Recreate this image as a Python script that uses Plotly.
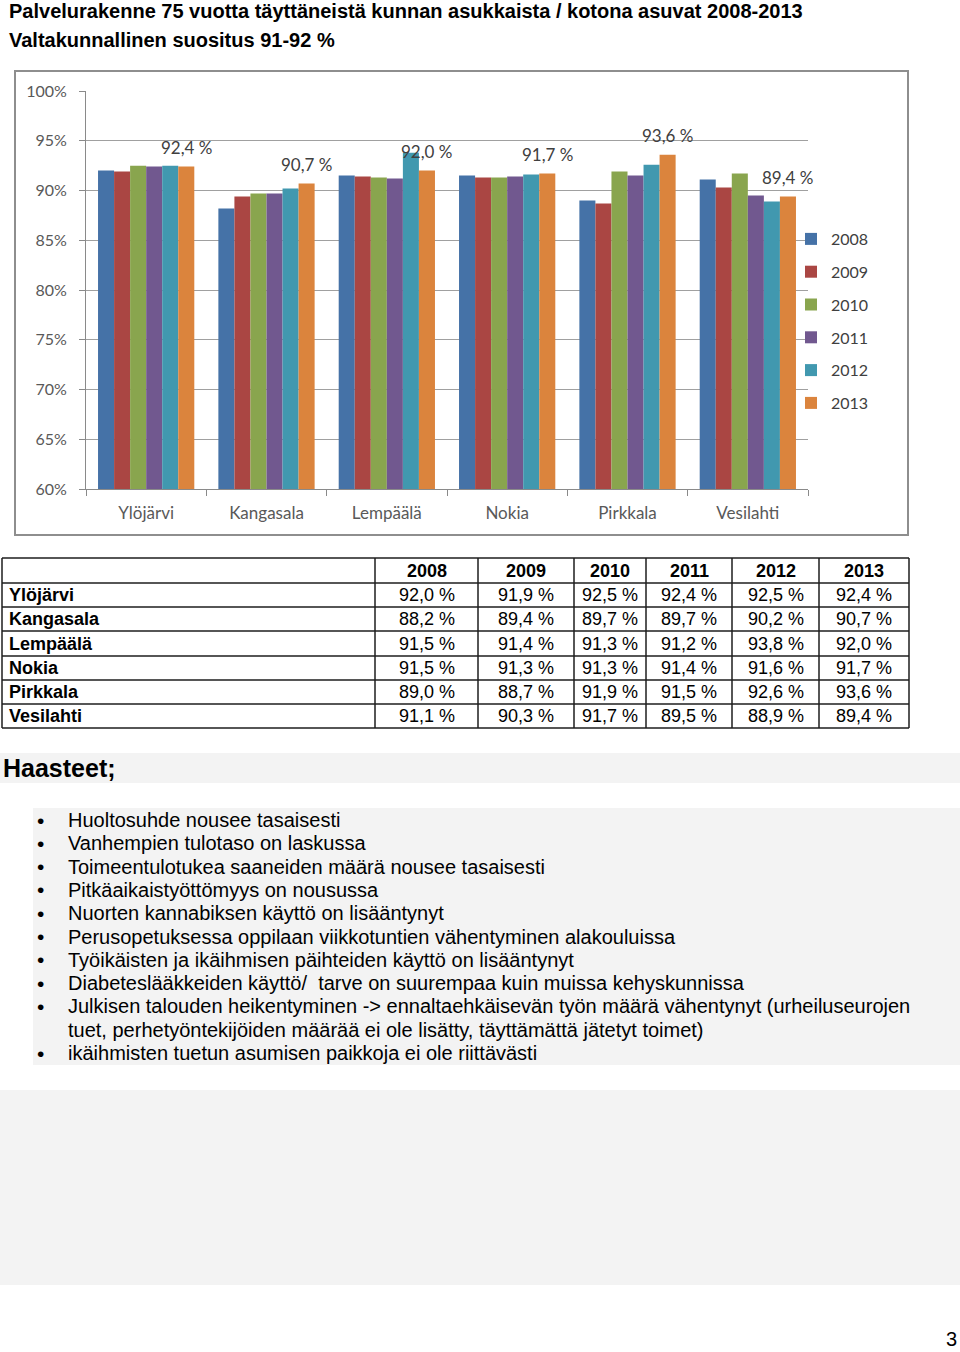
import plotly.graph_objects as go

# ---------------- data ----------------
municipalities = ["Ylöjärvi", "Kangasala", "Lempäälä", "Nokia", "Pirkkala", "Vesilahti"]
years = ["2008", "2009", "2010", "2011", "2012", "2013"]
v2008 = [92.0, 88.2, 91.5, 91.5, 89.0, 91.1]
v2009 = [91.9, 89.4, 91.4, 91.3, 88.7, 90.3]
v2010 = [92.5, 89.7, 91.3, 91.3, 91.9, 91.7]
v2011 = [92.4, 89.7, 91.2, 91.4, 91.5, 89.5]
v2012 = [92.5, 90.2, 93.8, 91.6, 92.6, 88.9]
v2013 = [92.4, 90.7, 92.0, 91.7, 93.6, 89.4]
series = [v2008, v2009, v2010, v2011, v2012, v2013]
y_ticks = [60, 65, 70, 75, 80, 85, 90, 95, 100]
y_ticktext = ["60%", "65%", "70%", "75%", "80%", "85%", "90%", "95%", "100%"]

title_lines = [
    "Palvelurakenne 75 vuotta täyttäneistä kunnan asukkaista / kotona asuvat 2008-2013",
    "Valtakunnallinen suositus 91-92 %",
]
section_title = "Haasteet;"
bullet_lines = [
    ("•", "Huoltosuhde nousee tasaisesti"),
    ("•", "Vanhempien tulotaso on laskussa"),
    ("•", "Toimeentulotukea saaneiden määrä nousee tasaisesti"),
    ("•", "Pitkäaikaistyöttömyys on nousussa"),
    ("•", "Nuorten kannabiksen käyttö on lisääntynyt"),
    ("•", "Perusopetuksessa oppilaan viikkotuntien vähentyminen alakouluissa"),
    ("•", "Työikäisten ja ikäihmisen päihteiden käyttö on lisääntynyt"),
    ("•", "Diabeteslääkkeiden käyttö/  tarve on suurempaa kuin muissa kehyskunnissa"),
    ("•", "Julkisen talouden heikentyminen -> ennaltaehkäisevän työn määrä vähentynyt (urheiluseurojen"),
    ("", "tuet, perhetyöntekijöiden määrää ei ole lisätty, täyttämättä jätetyt toimet)"),
    ("•", "ikäihmisten tuetun asumisen paikkoja ei ole riittävästi"),
]
page_number = "3"

# ---------------- style / layout constants ----------------
W, H = 960, 1352
colors = ["#4572A7", "#AA4643", "#89A54E", "#71588F", "#4198AF", "#DB843D"]
chart_font = "Lato, 'Open Sans', sans-serif"
doc_font = "'Liberation Sans', Arial, sans-serif"
table_cols = [2, 375, 478, 574, 646, 732, 819, 909]     # column edges (px)
table_rows = [558, 583, 607, 631, 656, 680, 704, 728]   # row edges (px)
BARGAP = 0.2


def px(x):
    return x / W


def py(y):
    return 1 - y / H


fig = go.Figure()

for i, (yr, vals) in enumerate(zip(years, series)):
    fig.add_trace(go.Bar(
        x=municipalities, y=vals, name=yr,
        marker=dict(color=colors[i], line=dict(width=0)),
        legendgroup=yr,
    ))

shapes = [
    # chart frame
    dict(type="rect", xref="paper", yref="paper", x0=px(15), x1=px(908), y0=py(535), y1=py(71),
         line=dict(color="#8E8E8E", width=2), fillcolor="rgba(0,0,0,0)", layer="below"),
    # grey bands
    dict(type="rect", xref="paper", yref="paper", x0=0, x1=1, y0=py(783), y1=py(753),
         line=dict(width=0), fillcolor="#F3F3F3", layer="below"),
    dict(type="rect", xref="paper", yref="paper", x0=px(33), x1=1, y0=py(1065), y1=py(808),
         line=dict(width=0), fillcolor="#F3F3F3", layer="below"),
    dict(type="rect", xref="paper", yref="paper", x0=0, x1=1, y0=py(1285), y1=py(1090),
         line=dict(width=0), fillcolor="#F3F3F3", layer="below"),
]
# table grid
for yy in table_rows:
    shapes.append(dict(type="line", xref="paper", yref="paper", x0=px(table_cols[0]), x1=px(table_cols[-1]),
                       y0=py(yy), y1=py(yy), line=dict(color="#1E1E1E", width=1.5)))
for xx in table_cols:
    shapes.append(dict(type="line", xref="paper", yref="paper", x0=px(xx), x1=px(xx),
                       y0=py(table_rows[0]), y1=py(table_rows[-1]), line=dict(color="#1E1E1E", width=1.5)))

annotations = []

# data labels on the last series (2013), placed via the data axes
n_series = len(series)
bar_w = (1 - BARGAP) / n_series
last_offset = -(1 - BARGAP) / 2 + bar_w * (n_series - 0.5)
for k, v in enumerate(series[-1]):
    annotations.append(dict(
        xref="x", yref="y", x=k + last_offset, y=v, yshift=19,
        xanchor="center", yanchor="middle", showarrow=False,
        text=("%.1f %%" % v).replace(".", ","),
        font=dict(family=chart_font, size=17, color="#404040"),
    ))

# table texts
tfont = dict(family=doc_font, size=18, color="black")
for j, yr in enumerate(years):
    cx = (table_cols[j + 1] + table_cols[j + 2]) / 2
    cy = (table_rows[0] + table_rows[1]) / 2
    annotations.append(dict(xref="paper", yref="paper", x=px(cx), y=py(cy), xanchor="center", yanchor="middle",
                            text="<b>%s</b>" % yr, showarrow=False, font=tfont))
for r, m in enumerate(municipalities):
    cy = (table_rows[r + 1] + table_rows[r + 2]) / 2
    annotations.append(dict(xref="paper", yref="paper", x=px(table_cols[0] + 5), y=py(cy),
                            xanchor="left", yanchor="middle",
                            text="<b>%s</b>" % m, showarrow=False, font=tfont))
    for j, vals in enumerate(series):
        cx = (table_cols[j + 1] + table_cols[j + 2]) / 2
        annotations.append(dict(xref="paper", yref="paper", x=px(cx), y=py(cy), xanchor="center",
                                yanchor="middle", text=("%.1f %%" % vals[r]).replace(".", ","),
                                showarrow=False, font=tfont))

for i, line in enumerate(title_lines):
    annotations.append(dict(
        xref="paper", yref="paper", x=px(7), y=py(11 + 29 * i), xanchor="left", yanchor="middle",
        text="<b>%s</b>" % line, showarrow=False,
        font=dict(family=doc_font, size=20, color="black"),
    ))
annotations.append(dict(
    xref="paper", yref="paper", x=px(1), y=py(768), xanchor="left", yanchor="middle",
    text="<b>%s</b>" % section_title, showarrow=False,
    font=dict(family=doc_font, size=25, color="black"),
))
for i, (b, line) in enumerate(bullet_lines):
    yy = py(820 + 23.3 * i)
    if b:
        annotations.append(dict(
            xref="paper", yref="paper", x=px(40), y=yy, xanchor="center", yanchor="middle",
            text=b, showarrow=False, font=dict(family=doc_font, size=21, color="black"),
        ))
    annotations.append(dict(
        xref="paper", yref="paper", x=px(66), y=yy, xanchor="left", yanchor="middle",
        text=line, showarrow=False, font=dict(family=doc_font, size=20, color="black"),
    ))
annotations.append(dict(
    xref="paper", yref="paper", x=px(959), y=py(1352), xanchor="right", yanchor="bottom",
    text=page_number, showarrow=False, font=dict(family=doc_font, size=20, color="black"),
))

fig.update_layout(
    width=W, height=H,
    margin=dict(l=0, r=0, t=0, b=0, pad=0, autoexpand=False),
    paper_bgcolor="white", plot_bgcolor="white",
    separators=", ",
    barmode="group", bargap=BARGAP, bargroupgap=0,
    showlegend=True,
    legend=dict(
        x=px(791), y=py(222), xanchor="left", yanchor="top",
        font=dict(family=chart_font, size=16, color="#404040"),
        tracegroupgap=9, bgcolor="rgba(0,0,0,0)",
    ),
    xaxis=dict(
        domain=[px(86), px(808)],
        range=[-0.5, len(municipalities) - 0.5], autorange=False,
        showline=True, linecolor="#8A8A8A", linewidth=1,
        ticks="outside", tickson="boundaries", ticklen=6, tickcolor="#8A8A8A",
        tickfont=dict(family=chart_font, size=17, color="#595959"),
        ticklabelstandoff=9,
    ),
    yaxis=dict(
        domain=[py(489), py(91)],
        range=[60, 100], autorange=False, tickvals=y_ticks, ticktext=y_ticktext,
        showline=True, linecolor="#8A8A8A", linewidth=1,
        ticks="outside", ticklen=6, tickcolor="#8A8A8A",
        gridcolor="#A0A0A0", gridwidth=1,
        tickfont=dict(family=chart_font, size=16, color="#595959"),
        ticklabelstandoff=9,
        zeroline=False,
    ),
    shapes=shapes,
    annotations=annotations,
)

fig.write_html("out.html", config={"displayModeBar": False},
               post_script="document.body.style.margin='0px';")
